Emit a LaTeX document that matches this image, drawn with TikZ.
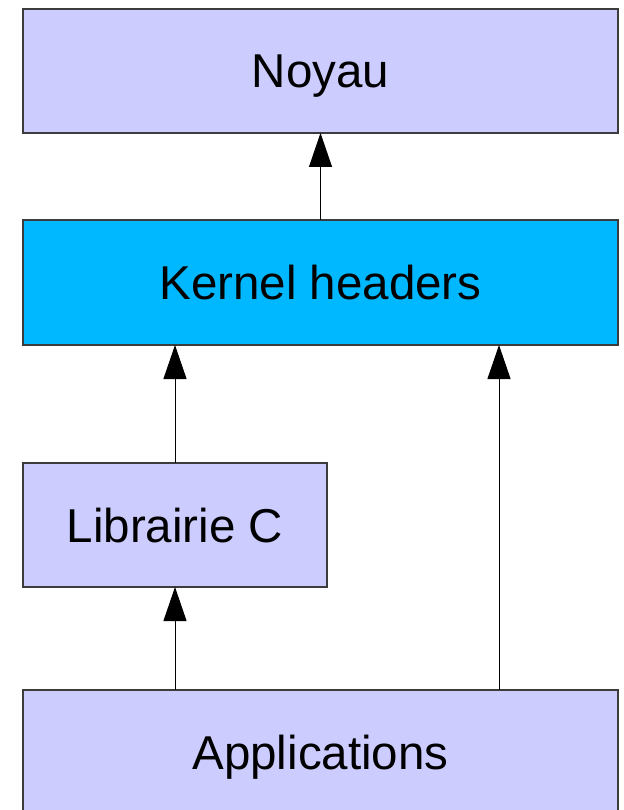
\documentclass[tikz,border=0pt]{standalone}
\usepackage{fontspec}
\setmainfont{Liberation Sans}
\usetikzlibrary{positioning, arrows.meta}
\definecolor{layerfill}{RGB}{204, 204, 255}
\definecolor{hdrfill}{RGB}{0, 184, 255}
\definecolor{edge}{RGB}{60, 60, 60}

\begin{document}
\begin{tikzpicture}[
    layer/.style={
        draw=edge,
        line width=1.3pt,
        fill=#1,
        font=\fontsize{47.5}{57}\selectfont,
        text height=34pt,
        text depth=0pt,
        minimum height=124pt,
        inner sep=0pt,
        outer sep=0pt
    },
    layer/.default=layerfill,
    arr/.style={
        -{Triangle[length=34pt, width=23pt]},
        line width=1pt,
        black
    }
]
\useasboundingbox (0,0) rectangle (623pt,-810pt);

% === Noyau ===
\node[layer, minimum width=595pt] (noyau) at (320.5pt,-71pt) {Noyau};

% === Kernel headers ===
\node[layer=hdrfill, minimum width=595pt, minimum height=125pt, below=87pt of noyau] (kernel) {Kernel headers};

% === Librairie C ===
\node[layer, minimum width=304pt, below=118pt of kernel.south west, anchor=north west] (libc) {Librairie C};

% === Applications ===
\node[layer, minimum width=595pt, below=103pt of libc.south west, anchor=north west] (apps) {Applications};

% === Arrows ===
\draw[arr] (kernel.north) -- (noyau.south);
\draw[arr] (libc.north) -- (libc.north |- kernel.south);
\draw[arr] (libc.south |- apps.north) -- (libc.south);
\draw[arr] ([xshift=178.5pt]apps.north) -- ([xshift=178.5pt]apps.north |- kernel.south);

\end{tikzpicture}
\end{document}
